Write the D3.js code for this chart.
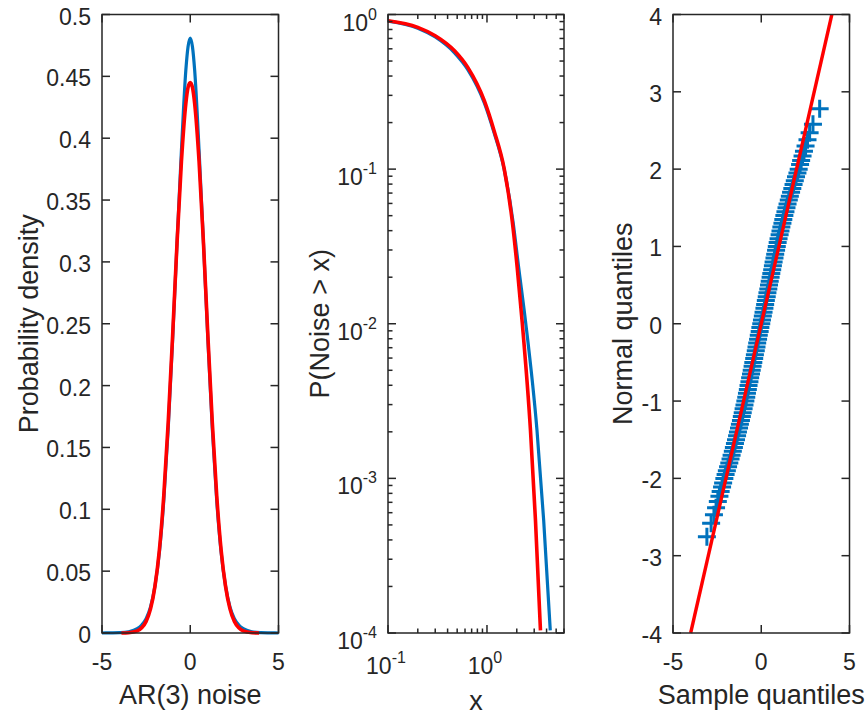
<!DOCTYPE html>
<html>
<head>
<meta charset="utf-8">
<script src="https://cdn.jsdelivr.net/npm/d3@7"></script>
<style>
  body { margin: 0; background: #fff; }
  svg { font-family: "Liberation Sans", Arial, Helvetica, sans-serif; }
  .axis-line { fill: none; stroke: #262626; stroke-width: 1.5; }
  .tick-mark { stroke: #262626; stroke-width: 1.5; }
  .tick-label { fill: #262626; font-size: 23px; }
  .axis-title { fill: #262626; font-size: 27px; }
</style>
</head>
<body>
<svg id="chart" width="867" height="715"></svg>
<script>
// ---- panel 1: density of AR(3) noise ----
const densX = [-5, -4.5, -4, -3.5, -3, -2.75, -2.5, -2.25, -2, -1.75, -1.5, -1.25, -1, -0.75, -0.5, -0.25, -0.125, 0,
               0.125, 0.25, 0.5, 0.75, 1, 1.25, 1.5, 1.75, 2, 2.25, 2.5, 2.75, 3, 3.5, 4, 4.5, 5];
const densBlue = [0, 0.0001, 0.0003, 0.001, 0.0035, 0.0065, 0.0115, 0.021, 0.038, 0.065, 0.107, 0.165, 0.237, 0.315, 0.39, 0.455, 0.474, 0.481,
                  0.474, 0.455, 0.39, 0.315, 0.237, 0.165, 0.107, 0.065, 0.038, 0.021, 0.0115, 0.0065, 0.0035, 0.001, 0.0003, 0.0001, 0];
const fitX = [-3.9, -3.5, -3, -2.75, -2.5, -2.25, -2, -1.75, -1.5, -1.25, -1, -0.75, -0.5, -0.25, -0.125, 0,
              0.125, 0.25, 0.5, 0.75, 1, 1.25, 1.5, 1.75, 2, 2.25, 2.5, 2.75, 3, 3.5, 3.9];
const fitRed = [0, 0.0002, 0.0017, 0.0042, 0.0094, 0.0195, 0.0377, 0.067, 0.111, 0.170, 0.240, 0.315, 0.381, 0.428, 0.441, 0.445,
                0.441, 0.428, 0.381, 0.315, 0.240, 0.170, 0.111, 0.067, 0.0377, 0.0195, 0.0094, 0.0042, 0.0017, 0.0002, 0];

// ---- panel 2: exceedance probability ----
const survX = [0.1, 0.2, 0.3, 0.47, 0.64, 0.94, 1.18, 1.49, 1.83, 2.09, 2.45, 3.2, 3.74, 4.36];
const survBlue = [0.905, 0.815, 0.715, 0.565, 0.44, 0.268, 0.172, 0.1, 0.046, 0.0231, 0.0104, 0.00205, 0.000535, 0.000104];
const survFitX = [0.1, 0.2, 0.3, 0.47, 0.64, 0.94, 1.18, 1.49, 1.8, 2.02, 2.27, 2.75, 3.09, 3.47];
const survRed = [0.912, 0.826, 0.729, 0.583, 0.455, 0.277, 0.177, 0.101, 0.046, 0.0231, 0.0102, 0.00205, 0.000535, 0.000104];

// ---- panel 3: QQ plot ----
const qqNormal = [-2.755, -2.58, -2.47, -2.38, -2.3, -2.23, -2.17, -2.11, -2.06,
  -2, -1.95, -1.9, -1.85, -1.8, -1.75, -1.7, -1.65, -1.6, -1.55, -1.5, -1.45, -1.4, -1.35, -1.3, -1.25, -1.2, -1.15, -1.1, -1.05,
  -1, -0.95, -0.9, -0.85, -0.8, -0.75, -0.7, -0.65, -0.6, -0.55, -0.5, -0.45, -0.4, -0.35, -0.3, -0.25, -0.2, -0.15, -0.1, -0.05, 0,
  0.05, 0.1, 0.15, 0.2, 0.25, 0.3, 0.35, 0.4, 0.45, 0.5, 0.55, 0.6, 0.65, 0.7, 0.75, 0.8, 0.85, 0.9, 0.95, 1,
  1.05, 1.1, 1.15, 1.2, 1.25, 1.3, 1.35, 1.4, 1.45, 1.5, 1.55, 1.6, 1.65, 1.7, 1.75, 1.8, 1.85, 1.9, 1.95, 2,
  2.06, 2.11, 2.17, 2.23, 2.3, 2.38, 2.47, 2.58, 2.78];
const qqSample = [-3.08, -2.84, -2.68, -2.56, -2.46, -2.37, -2.3, -2.22, -2.16,
  -2.09, -2.02, -1.95, -1.88, -1.81, -1.74, -1.68, -1.61, -1.55, -1.49, -1.43, -1.37, -1.32, -1.26, -1.21, -1.15, -1.1, -1.05, -1, -0.95,
  -0.9, -0.85, -0.81, -0.76, -0.72, -0.67, -0.63, -0.58, -0.54, -0.49, -0.45, -0.4, -0.36, -0.31, -0.27, -0.23, -0.18, -0.14, -0.09, -0.05, 0,
  0.04, 0.09, 0.13, 0.18, 0.22, 0.26, 0.31, 0.35, 0.4, 0.44, 0.48, 0.53, 0.57, 0.62, 0.66, 0.7, 0.75, 0.79, 0.84, 0.88,
  0.93, 0.98, 1.04, 1.09, 1.14, 1.2, 1.25, 1.31, 1.37, 1.43, 1.49, 1.56, 1.62, 1.69, 1.76, 1.83, 1.9, 1.97, 2.05, 2.12,
  2.2, 2.26, 2.34, 2.42, 2.51, 2.62, 2.74, 2.93, 3.31];
const refLineX = [-4, 4];
const refLineY = [-4, 4];

// tick values
const p1XTicks = [-5, 0, 5];
const p1YTicks = [0, 0.05, 0.1, 0.15, 0.2, 0.25, 0.3, 0.35, 0.4, 0.45, 0.5];
const p2XTicks = [0.1, 1];
const p2YTicks = [1e-4, 1e-3, 1e-2, 1e-1, 1];
const p3XTicks = [-5, 0, 5];
const p3YTicks = [-4, -3, -2, -1, 0, 1, 2, 3, 4];

const BLUE = "#0072BD", RED = "#FF0000";
const svg = d3.select("#chart");
const plotTop = 14.5, plotH = 618.5, plotW = 176.5;
const lefts = [102, 388, 673];
const majorLen = 8, minorLen = 4.5;

function frame(g, x, y, xt, yt, xminor, yminor) {
  const [x0, x1] = x.range(), [y0, y1] = y.range();
  const ticks = g.append("g");
  xt.forEach(v => {
    ticks.append("line").attr("class", "tick-mark").attr("x1", x(v)).attr("x2", x(v)).attr("y1", y0).attr("y2", y0 - majorLen);
    ticks.append("line").attr("class", "tick-mark").attr("x1", x(v)).attr("x2", x(v)).attr("y1", y1).attr("y2", y1 + majorLen);
  });
  yt.forEach(v => {
    ticks.append("line").attr("class", "tick-mark").attr("x1", x0).attr("x2", x0 + majorLen).attr("y1", y(v)).attr("y2", y(v));
    ticks.append("line").attr("class", "tick-mark").attr("x1", x1).attr("x2", x1 - majorLen).attr("y1", y(v)).attr("y2", y(v));
  });
  (xminor || []).forEach(v => {
    ticks.append("line").attr("class", "tick-mark").attr("x1", x(v)).attr("x2", x(v)).attr("y1", y0).attr("y2", y0 - minorLen);
    ticks.append("line").attr("class", "tick-mark").attr("x1", x(v)).attr("x2", x(v)).attr("y1", y1).attr("y2", y1 + minorLen);
  });
  (yminor || []).forEach(v => {
    ticks.append("line").attr("class", "tick-mark").attr("x1", x0).attr("x2", x0 + minorLen).attr("y1", y(v)).attr("y2", y(v));
    ticks.append("line").attr("class", "tick-mark").attr("x1", x1).attr("x2", x1 - minorLen).attr("y1", y(v)).attr("y2", y(v));
  });
  g.append("rect").attr("class", "axis-line")
    .attr("x", x0).attr("y", y1).attr("width", x1 - x0).attr("height", y0 - y1);
}

function linearLabels(g, x, y, xt, yt, fmt) {
  const [x0] = x.range(), [y0] = y.range();
  g.selectAll("text.xl").data(xt).join("text").attr("class", "tick-label")
    .attr("x", d => x(d)).attr("y", y0 + 37).attr("text-anchor", "middle").text(d => d);
  g.selectAll("text.yl").data(yt).join("text").attr("class", "tick-label")
    .attr("x", x0 - 11).attr("y", d => y(d) + 10).attr("text-anchor", "end").text(fmt);
}

function xTitle(g, x, ypos, txt) {
  const [x0, x1] = x.range();
  g.append("text").attr("class", "axis-title").attr("x", (x0 + x1) / 2).attr("y", ypos)
    .attr("text-anchor", "middle").text(txt);
}
function yTitle(g, xpos, y, txt) {
  const [y0, y1] = y.range();
  g.append("text").attr("class", "axis-title")
    .attr("transform", `translate(${xpos},${(y0 + y1) / 2}) rotate(-90)`)
    .attr("text-anchor", "middle").text(txt);
}

// ---------- panel 1 ----------
{
  const x = d3.scaleLinear().domain([-5, 5]).range([lefts[0], lefts[0] + plotW]);
  const y = d3.scaleLinear().domain([0, 0.5]).range([plotTop + plotH, plotTop]);
  const g = svg.append("g");
  const line = d3.line().curve(d3.curveMonotoneX).x(d => x(d[0])).y(d => y(d[1]));
  g.append("path").datum(d3.zip(densX, densBlue)).attr("d", line)
    .attr("fill", "none").attr("stroke", BLUE).attr("stroke-width", 3.2);
  g.append("path").datum(d3.zip(fitX, fitRed)).attr("d", line)
    .attr("fill", "none").attr("stroke", RED).attr("stroke-width", 3.6);
  frame(g, x, y, p1XTicks, p1YTicks);
  linearLabels(g, x, y, p1XTicks, p1YTicks, d => d3.format("~g")(d));
  xTitle(g, x, 704, "AR(3) noise");
  yTitle(g, 38, y, "Probability density");
}

// ---------- panel 2 ----------
{
  const x = d3.scaleLog().domain([0.1, 6]).range([lefts[1], lefts[1] + plotW - 0.5]);
  const y = d3.scaleLog().domain([1e-4, 1]).range([plotTop + plotH, plotTop]);
  const g = svg.append("g");
  g.append("clipPath").attr("id", "clip2").append("rect")
    .attr("x", lefts[1]).attr("y", plotTop).attr("width", plotW).attr("height", plotH);
  const line = d3.line().curve(d3.curveMonotoneX).x(d => x(d[0])).y(d => y(d[1]));
  const plot = g.append("g").attr("clip-path", "url(#clip2)");
  plot.append("path").datum(d3.zip(survX, survBlue)).attr("d", line)
    .attr("fill", "none").attr("stroke", BLUE).attr("stroke-width", 3.2);
  plot.append("path").datum(d3.zip(survFitX, survRed)).attr("d", line)
    .attr("fill", "none").attr("stroke", RED).attr("stroke-width", 3.6);
  const xminor = [];
  [0.1, 1].forEach(b => d3.range(2, 10).forEach(m => { if (b * m <= 6) xminor.push(b * m); }));
  const yminor = [];
  p2YTicks.slice(0, -1).forEach(b => d3.range(2, 10).forEach(m => yminor.push(b * m)));
  frame(g, x, y, p2XTicks, p2YTicks, xminor, yminor);
  // log labels
  const xl = g.selectAll("text.xl").data(p2XTicks).join("text").attr("class", "tick-label")
    .attr("x", d => x(d) - 2).attr("y", plotTop + plotH + 41).attr("text-anchor", "middle");
  xl.append("tspan").text("10");
  xl.append("tspan").attr("dy", -11).attr("font-size", 16).text(d => Math.round(Math.log10(d)));
  const yl = g.selectAll("text.yl").data(p2YTicks).join("text").attr("class", "tick-label")
    .attr("x", lefts[1] - 11).attr("y", d => y(d) + 16).attr("text-anchor", "end");
  yl.append("tspan").text("10");
  yl.append("tspan").attr("dy", -11).attr("font-size", 16).text(d => Math.round(Math.log10(d)));
  xTitle(g, x, 710, "x");
  yTitle(g, 329, y, "P(Noise > x)");
}

// ---------- panel 3 ----------
{
  const x = d3.scaleLinear().domain([-5, 5]).range([lefts[2], lefts[2] + plotW]);
  const y = d3.scaleLinear().domain([-4, 4]).range([plotTop + plotH, plotTop]);
  const g = svg.append("g");
  g.selectAll("path.pt").data(d3.zip(qqSample, qqNormal)).join("path").attr("class", "pt")
    .attr("transform", d => `translate(${x(d[0])},${y(d[1])})`)
    .attr("d", "M-9,0H9M0,-9V9")
    .attr("fill", "none").attr("stroke", BLUE).attr("stroke-width", 3);
  g.append("line").attr("x1", x(refLineX[0])).attr("x2", x(refLineX[1]))
    .attr("y1", y(refLineY[0])).attr("y2", y(refLineY[1]))
    .attr("stroke", RED).attr("stroke-width", 3.4);
  frame(g, x, y, p3XTicks, p3YTicks);
  linearLabels(g, x, y, p3XTicks, p3YTicks, d => d);
  xTitle(g, x, 704, "Sample quantiles");
  yTitle(g, 632, y, "Normal quantiles");
}
</script>
</body>
</html>
